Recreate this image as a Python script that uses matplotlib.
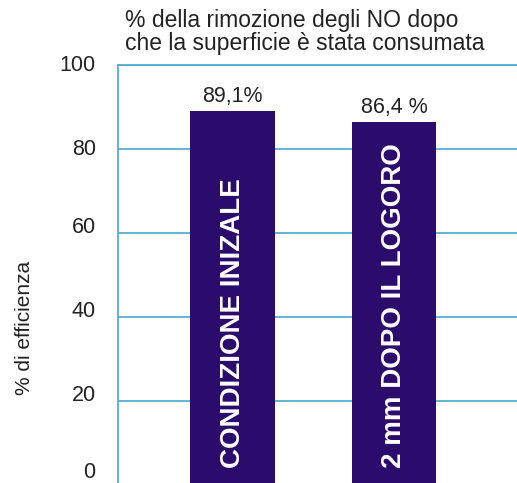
import matplotlib.pyplot as plt
import matplotlib.transforms as mtransforms

plt.rcParams['font.family'] = ['Liberation Sans', 'DejaVu Sans']

categories = ['CONDIZIONE INIZALE', '2 mm DOPO IL LOGORO']
values = [89.1, 86.4]
value_labels = ['89,1%', '86,4 %']
yticks = [0, 20, 40, 60, 80, 100]

barColor = '#2b0c6c'
gridColor = '#4aa6cf'
textColor = '#222222'

fig = plt.figure(figsize=(5.17, 4.83), dpi=100)
ax = fig.add_axes([0.228, -0.004, 0.78, 0.869])

pos = [1, 2]
ax.bar(pos, values, width=0.52, color=barColor, zorder=3)

for x, v, lab, cat in zip(pos, values, value_labels, categories):
    ax.text(x, v + 1.0, lab, ha='center', va='bottom', fontsize=15.5, color=textColor)
    ax.text(x, 4, cat, rotation=90, ha='center', va='bottom', fontsize=20,
            fontweight='bold', color='white', zorder=4)

ax.set_xlim(0.291, 2.785)
ax.set_ylim(0, 100)
ax.set_yticks(yticks)
ax.set_xticks([])
ax.tick_params(axis='y', length=0, pad=16, labelsize=15.5, labelcolor=textColor)
ax.yaxis.grid(True, color=gridColor, linewidth=1.2, zorder=0)

# the lower labels sit a bit above their gridlines
label_shift = [15, 8, 8, 8, 2, 2]
for lab, dy in zip(ax.get_yticklabels(), label_shift):
    lab.set_transform(lab.get_transform() +
                      mtransforms.ScaledTranslation(0, dy / 100, fig.dpi_scale_trans))

for s in ['right', 'bottom']:
    ax.spines[s].set_visible(False)
for s in ['left', 'top']:
    ax.spines[s].set_color(gridColor)
    ax.spines[s].set_linewidth(1.2)

ax.set_ylabel('% di efficienza', fontsize=15, color=textColor)
ax.yaxis.set_label_coords(-0.208, 0.374)

fig.text(0.242, 0.982, '% della rimozione degli NO dopo\nche la superficie è stata consumata',
         ha='left', va='top', fontsize=16.5, color=textColor, linespacing=1.0)

plt.savefig('out.png', dpi=100)
